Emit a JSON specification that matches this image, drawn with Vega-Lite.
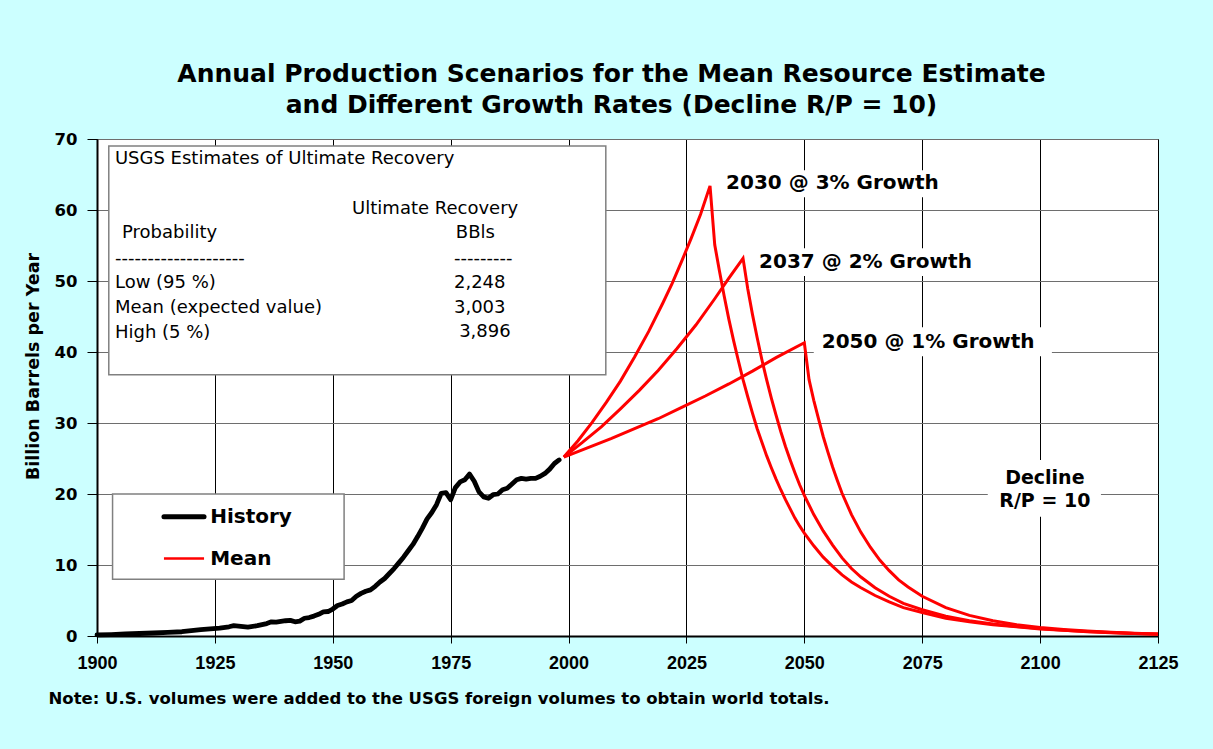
{
  "$schema": "https://vega.github.io/schema/vega-lite/v6.json",
  "width": 1061,
  "height": 497,
  "autosize": {"type": "none"},
  "padding": {"left": 97, "top": 139, "right": 55, "bottom": 113},
  "background": "#CCFFFF",
  "title": {
    "text": ["Annual Production Scenarios for the Mean Resource Estimate", "and Different Growth Rates (Decline R/P = 10)"],
    "font": "DejaVu Sans", "fontSize": 25, "fontWeight": "bold", "color": "black",
    "anchor": "middle", "frame": "group", "dx": -16, "offset": 13, "lineHeight": 31
  },
  "datasets": {
    "history": [
      {"series":"History","year":1900,"value":0.15},{"series":"History","year":1903,"value":0.2},{"series":"History","year":1906,"value":0.28},
      {"series":"History","year":1909,"value":0.35},{"series":"History","year":1912,"value":0.42},{"series":"History","year":1915,"value":0.5},
      {"series":"History","year":1918,"value":0.6},{"series":"History","year":1920,"value":0.75},{"series":"History","year":1922,"value":0.9},
      {"series":"History","year":1924,"value":1.0},{"series":"History","year":1926,"value":1.1},{"series":"History","year":1928,"value":1.3},
      {"series":"History","year":1929,"value":1.45},{"series":"History","year":1930,"value":1.4},{"series":"History","year":1932,"value":1.25},
      {"series":"History","year":1934,"value":1.45},{"series":"History","year":1936,"value":1.75},{"series":"History","year":1937,"value":2.0},
      {"series":"History","year":1938,"value":1.95},{"series":"History","year":1940,"value":2.15},{"series":"History","year":1941,"value":2.2},
      {"series":"History","year":1942,"value":2.0},{"series":"History","year":1943,"value":2.1},{"series":"History","year":1944,"value":2.5},
      {"series":"History","year":1945,"value":2.6},{"series":"History","year":1946,"value":2.8},{"series":"History","year":1947,"value":3.05},
      {"series":"History","year":1948,"value":3.4},{"series":"History","year":1949,"value":3.45},{"series":"History","year":1950,"value":3.8},
      {"series":"History","year":1951,"value":4.3},{"series":"History","year":1952,"value":4.5},{"series":"History","year":1953,"value":4.8},
      {"series":"History","year":1954,"value":5.0},{"series":"History","year":1955,"value":5.6},{"series":"History","year":1956,"value":6.0},
      {"series":"History","year":1957,"value":6.3},{"series":"History","year":1958,"value":6.5},{"series":"History","year":1959,"value":7.0},
      {"series":"History","year":1960,"value":7.6},{"series":"History","year":1961,"value":8.1},{"series":"History","year":1962,"value":8.8},
      {"series":"History","year":1963,"value":9.5},{"series":"History","year":1964,"value":10.3},{"series":"History","year":1965,"value":11.1},
      {"series":"History","year":1966,"value":12.0},{"series":"History","year":1967,"value":12.9},{"series":"History","year":1968,"value":14.0},
      {"series":"History","year":1969,"value":15.2},{"series":"History","year":1970,"value":16.5},{"series":"History","year":1971,"value":17.4},
      {"series":"History","year":1972,"value":18.5},{"series":"History","year":1973,"value":20.1},{"series":"History","year":1974,"value":20.2},
      {"series":"History","year":1975,"value":19.2},{"series":"History","year":1976,"value":20.9},{"series":"History","year":1977,"value":21.7},
      {"series":"History","year":1978,"value":22.0},{"series":"History","year":1979,"value":22.8},{"series":"History","year":1980,"value":21.8},
      {"series":"History","year":1981,"value":20.3},{"series":"History","year":1982,"value":19.6},{"series":"History","year":1983,"value":19.4},
      {"series":"History","year":1984,"value":19.9},{"series":"History","year":1985,"value":20.0},{"series":"History","year":1986,"value":20.6},
      {"series":"History","year":1987,"value":20.8},{"series":"History","year":1988,"value":21.4},{"series":"History","year":1989,"value":22.0},
      {"series":"History","year":1990,"value":22.2},{"series":"History","year":1991,"value":22.1},{"series":"History","year":1992,"value":22.2},
      {"series":"History","year":1993,"value":22.2},{"series":"History","year":1994,"value":22.5},{"series":"History","year":1995,"value":22.9},
      {"series":"History","year":1996,"value":23.5},{"series":"History","year":1997,"value":24.3},{"series":"History","year":1998,"value":24.8}
    ],
    "mean": [
      {"series":"Mean","scenario":"2030 @ 3%","year":1999,"value":25.2},{"series":"Mean","scenario":"2030 @ 3%","year":2002,"value":27.5},
      {"series":"Mean","scenario":"2030 @ 3%","year":2005,"value":30.1},{"series":"Mean","scenario":"2030 @ 3%","year":2008,"value":32.9},
      {"series":"Mean","scenario":"2030 @ 3%","year":2011,"value":35.9},{"series":"Mean","scenario":"2030 @ 3%","year":2014,"value":39.3},
      {"series":"Mean","scenario":"2030 @ 3%","year":2017,"value":42.9},{"series":"Mean","scenario":"2030 @ 3%","year":2020,"value":46.9},
      {"series":"Mean","scenario":"2030 @ 3%","year":2022,"value":49.7},{"series":"Mean","scenario":"2030 @ 3%","year":2024,"value":52.8},
      {"series":"Mean","scenario":"2030 @ 3%","year":2026,"value":56.0},{"series":"Mean","scenario":"2030 @ 3%","year":2028,"value":59.4},
      {"series":"Mean","scenario":"2030 @ 3%","year":2030,"value":63.4},{"series":"Mean","scenario":"2030 @ 3%","year":2031,"value":55.1},
      {"series":"Mean","scenario":"2030 @ 3%","year":2032,"value":51.4},{"series":"Mean","scenario":"2030 @ 3%","year":2033,"value":47.9},
      {"series":"Mean","scenario":"2030 @ 3%","year":2034,"value":44.6},{"series":"Mean","scenario":"2030 @ 3%","year":2035,"value":41.6},
      {"series":"Mean","scenario":"2030 @ 3%","year":2036,"value":38.8},{"series":"Mean","scenario":"2030 @ 3%","year":2037,"value":36.1},
      {"series":"Mean","scenario":"2030 @ 3%","year":2038,"value":33.7},{"series":"Mean","scenario":"2030 @ 3%","year":2039,"value":31.4},
      {"series":"Mean","scenario":"2030 @ 3%","year":2040,"value":29.2},{"series":"Mean","scenario":"2030 @ 3%","year":2041,"value":27.3},
      {"series":"Mean","scenario":"2030 @ 3%","year":2042,"value":25.4},{"series":"Mean","scenario":"2030 @ 3%","year":2043,"value":23.7},
      {"series":"Mean","scenario":"2030 @ 3%","year":2044,"value":22.1},{"series":"Mean","scenario":"2030 @ 3%","year":2045,"value":20.6},
      {"series":"Mean","scenario":"2030 @ 3%","year":2046,"value":19.2},{"series":"Mean","scenario":"2030 @ 3%","year":2047,"value":17.9},
      {"series":"Mean","scenario":"2030 @ 3%","year":2048,"value":16.6},{"series":"Mean","scenario":"2030 @ 3%","year":2049,"value":15.5},
      {"series":"Mean","scenario":"2030 @ 3%","year":2050,"value":14.5},{"series":"Mean","scenario":"2030 @ 3%","year":2052,"value":12.7},
      {"series":"Mean","scenario":"2030 @ 3%","year":2054,"value":11.1},{"series":"Mean","scenario":"2030 @ 3%","year":2056,"value":9.8},
      {"series":"Mean","scenario":"2030 @ 3%","year":2058,"value":8.6},{"series":"Mean","scenario":"2030 @ 3%","year":2060,"value":7.6},
      {"series":"Mean","scenario":"2030 @ 3%","year":2062,"value":6.8},{"series":"Mean","scenario":"2030 @ 3%","year":2065,"value":5.7},
      {"series":"Mean","scenario":"2030 @ 3%","year":2068,"value":4.8},{"series":"Mean","scenario":"2030 @ 3%","year":2071,"value":4.0},
      {"series":"Mean","scenario":"2030 @ 3%","year":2075,"value":3.3},{"series":"Mean","scenario":"2030 @ 3%","year":2080,"value":2.5},
      {"series":"Mean","scenario":"2030 @ 3%","year":2085,"value":2.0},{"series":"Mean","scenario":"2030 @ 3%","year":2090,"value":1.6},
      {"series":"Mean","scenario":"2030 @ 3%","year":2095,"value":1.3},{"series":"Mean","scenario":"2030 @ 3%","year":2100,"value":1.0},
      {"series":"Mean","scenario":"2030 @ 3%","year":2105,"value":0.8},{"series":"Mean","scenario":"2030 @ 3%","year":2110,"value":0.6},
      {"series":"Mean","scenario":"2030 @ 3%","year":2115,"value":0.45},{"series":"Mean","scenario":"2030 @ 3%","year":2120,"value":0.34},
      {"series":"Mean","scenario":"2030 @ 3%","year":2125,"value":0.25},

      {"series":"Mean","scenario":"2037 @ 2%","year":1999,"value":25.2},{"series":"Mean","scenario":"2037 @ 2%","year":2003,"value":27.3},
      {"series":"Mean","scenario":"2037 @ 2%","year":2007,"value":29.5},{"series":"Mean","scenario":"2037 @ 2%","year":2011,"value":32.0},
      {"series":"Mean","scenario":"2037 @ 2%","year":2015,"value":34.6},{"series":"Mean","scenario":"2037 @ 2%","year":2019,"value":37.4},
      {"series":"Mean","scenario":"2037 @ 2%","year":2023,"value":40.5},{"series":"Mean","scenario":"2037 @ 2%","year":2027,"value":43.8},
      {"series":"Mean","scenario":"2037 @ 2%","year":2031,"value":47.5},{"series":"Mean","scenario":"2037 @ 2%","year":2034,"value":50.4},
      {"series":"Mean","scenario":"2037 @ 2%","year":2037,"value":53.2},{"series":"Mean","scenario":"2037 @ 2%","year":2038,"value":48.9},
      {"series":"Mean","scenario":"2037 @ 2%","year":2039,"value":45.3},{"series":"Mean","scenario":"2037 @ 2%","year":2040,"value":42.0},
      {"series":"Mean","scenario":"2037 @ 2%","year":2041,"value":38.9},{"series":"Mean","scenario":"2037 @ 2%","year":2042,"value":36.1},
      {"series":"Mean","scenario":"2037 @ 2%","year":2043,"value":33.5},{"series":"Mean","scenario":"2037 @ 2%","year":2044,"value":31.1},
      {"series":"Mean","scenario":"2037 @ 2%","year":2045,"value":28.8},{"series":"Mean","scenario":"2037 @ 2%","year":2046,"value":26.7},
      {"series":"Mean","scenario":"2037 @ 2%","year":2047,"value":24.8},{"series":"Mean","scenario":"2037 @ 2%","year":2048,"value":23.0},
      {"series":"Mean","scenario":"2037 @ 2%","year":2049,"value":21.3},{"series":"Mean","scenario":"2037 @ 2%","year":2050,"value":19.8},
      {"series":"Mean","scenario":"2037 @ 2%","year":2052,"value":17.1},{"series":"Mean","scenario":"2037 @ 2%","year":2054,"value":14.8},
      {"series":"Mean","scenario":"2037 @ 2%","year":2056,"value":12.8},{"series":"Mean","scenario":"2037 @ 2%","year":2058,"value":11.0},
      {"series":"Mean","scenario":"2037 @ 2%","year":2060,"value":9.5},{"series":"Mean","scenario":"2037 @ 2%","year":2062,"value":8.3},
      {"series":"Mean","scenario":"2037 @ 2%","year":2065,"value":6.8},{"series":"Mean","scenario":"2037 @ 2%","year":2068,"value":5.6},
      {"series":"Mean","scenario":"2037 @ 2%","year":2071,"value":4.6},{"series":"Mean","scenario":"2037 @ 2%","year":2075,"value":3.7},
      {"series":"Mean","scenario":"2037 @ 2%","year":2080,"value":2.8},{"series":"Mean","scenario":"2037 @ 2%","year":2085,"value":2.15},
      {"series":"Mean","scenario":"2037 @ 2%","year":2090,"value":1.7},{"series":"Mean","scenario":"2037 @ 2%","year":2095,"value":1.35},
      {"series":"Mean","scenario":"2037 @ 2%","year":2100,"value":1.05},{"series":"Mean","scenario":"2037 @ 2%","year":2105,"value":0.82},
      {"series":"Mean","scenario":"2037 @ 2%","year":2110,"value":0.63},{"series":"Mean","scenario":"2037 @ 2%","year":2115,"value":0.48},
      {"series":"Mean","scenario":"2037 @ 2%","year":2120,"value":0.36},{"series":"Mean","scenario":"2037 @ 2%","year":2125,"value":0.27},

      {"series":"Mean","scenario":"2050 @ 1%","year":1999,"value":25.2},{"series":"Mean","scenario":"2050 @ 1%","year":2004,"value":26.5},
      {"series":"Mean","scenario":"2050 @ 1%","year":2009,"value":27.8},{"series":"Mean","scenario":"2050 @ 1%","year":2014,"value":29.2},
      {"series":"Mean","scenario":"2050 @ 1%","year":2019,"value":30.6},{"series":"Mean","scenario":"2050 @ 1%","year":2024,"value":32.2},
      {"series":"Mean","scenario":"2050 @ 1%","year":2029,"value":33.8},{"series":"Mean","scenario":"2050 @ 1%","year":2034,"value":35.5},
      {"series":"Mean","scenario":"2050 @ 1%","year":2039,"value":37.3},{"series":"Mean","scenario":"2050 @ 1%","year":2044,"value":39.2},
      {"series":"Mean","scenario":"2050 @ 1%","year":2050,"value":41.3},{"series":"Mean","scenario":"2050 @ 1%","year":2051,"value":36.1},
      {"series":"Mean","scenario":"2050 @ 1%","year":2052,"value":33.2},{"series":"Mean","scenario":"2050 @ 1%","year":2053,"value":30.6},
      {"series":"Mean","scenario":"2050 @ 1%","year":2054,"value":28.1},{"series":"Mean","scenario":"2050 @ 1%","year":2055,"value":25.9},
      {"series":"Mean","scenario":"2050 @ 1%","year":2056,"value":23.8},{"series":"Mean","scenario":"2050 @ 1%","year":2057,"value":21.9},
      {"series":"Mean","scenario":"2050 @ 1%","year":2058,"value":20.1},{"series":"Mean","scenario":"2050 @ 1%","year":2060,"value":17.1},
      {"series":"Mean","scenario":"2050 @ 1%","year":2062,"value":14.6},{"series":"Mean","scenario":"2050 @ 1%","year":2064,"value":12.5},
      {"series":"Mean","scenario":"2050 @ 1%","year":2066,"value":10.7},{"series":"Mean","scenario":"2050 @ 1%","year":2068,"value":9.2},
      {"series":"Mean","scenario":"2050 @ 1%","year":2070,"value":7.9},{"series":"Mean","scenario":"2050 @ 1%","year":2072,"value":6.9},
      {"series":"Mean","scenario":"2050 @ 1%","year":2075,"value":5.6},{"series":"Mean","scenario":"2050 @ 1%","year":2080,"value":4.0},
      {"series":"Mean","scenario":"2050 @ 1%","year":2085,"value":2.9},{"series":"Mean","scenario":"2050 @ 1%","year":2090,"value":2.15},
      {"series":"Mean","scenario":"2050 @ 1%","year":2095,"value":1.6},{"series":"Mean","scenario":"2050 @ 1%","year":2100,"value":1.2},
      {"series":"Mean","scenario":"2050 @ 1%","year":2105,"value":0.92},{"series":"Mean","scenario":"2050 @ 1%","year":2110,"value":0.7},
      {"series":"Mean","scenario":"2050 @ 1%","year":2115,"value":0.52},{"series":"Mean","scenario":"2050 @ 1%","year":2120,"value":0.38},
      {"series":"Mean","scenario":"2050 @ 1%","year":2125,"value":0.28}
    ]
  },
  "layer": [
    {
      "data": {"values": [{}]},
      "mark": {"type": "rect", "fill": "white", "stroke": "#808080", "strokeWidth": 1.5},
      "encoding": {
        "x": {
          "datum": 1902.5, "type": "quantitative",
          "scale": {"domain": [1900, 2125], "nice": false, "zero": false},
          "axis": {
            "values": [1900, 1925, 1950, 1975, 2000, 2025, 2050, 2075, 2100, 2125],
            "format": "d",
            "labelFont": "Liberation Sans", "labelFontSize": 18, "labelFontWeight": "bold", "labelColor": "black",
            "labelPadding": 11, "labelFlush": false, "labelOverlap": false,
            "tickSize": 7, "tickColor": "black", "tickWidth": 1,
            "domainColor": "black", "domainWidth": 2,
            "grid": true, "gridColor": "black", "gridWidth": 1, "gridOpacity": 1,
            "title": "Note:  U.S. volumes were added to the USGS foreign volumes to obtain world totals.",
            "titleFont": "DejaVu Sans", "titleFontSize": 16.5, "titleFontWeight": "bold", "titleColor": "black",
            "titleAnchor": "start", "titleAlign": "left", "titleBaseline": "middle",
            "titleX": -49, "titleY": 62
          }
        },
        "x2": {"datum": 2007.9},
        "y": {
          "datum": 69.0, "type": "quantitative",
          "scale": {"domain": [0, 70], "nice": false},
          "axis": {
            "values": [0, 10, 20, 30, 40, 50, 60, 70],
            "labelFont": "DejaVu Sans", "labelFontSize": 16.5, "labelFontWeight": "bold", "labelColor": "black",
            "labelPadding": 10, "labelFlush": false, "labelOverlap": false,
            "tickSize": 10, "tickColor": "black", "tickWidth": 1,
            "domainColor": "black", "domainWidth": 2,
            "grid": true, "gridColor": "#6e6e6e", "gridWidth": 1, "gridOpacity": 1,
            "title": "Billion Barrels per Year",
            "titleFont": "DejaVu Sans", "titleFontSize": 17.5, "titleFontWeight": "bold", "titleColor": "black",
            "titleAngle": 270, "titleAlign": "center", "titleBaseline": "middle",
            "titleX": -64, "titleY": 227
          }
        },
        "y2": {"datum": 36.8}
      }
    },
    {
      "data": {"values": [{}]},
      "mark": {"type": "rect", "fill": "white", "stroke": "#808080", "strokeWidth": 1.5},
      "encoding": {
        "x": {"datum": 1903.3, "type": "quantitative", "scale": {"domain": [1900, 2125], "nice": false, "zero": false}},
        "x2": {"datum": 1952.4},
        "y": {"datum": 20.0, "type": "quantitative", "scale": {"domain": [0, 70], "nice": false}},
        "y2": {"datum": 8.0}
      }
    },
    {
      "data": {"values": [{}]},
      "mark": {"type": "rect", "fill": "white"},
      "encoding": {
        "x": {"datum": 2032.1, "type": "quantitative", "scale": {"domain": [1900, 2125], "nice": false, "zero": false}},
        "x2": {"datum": 2080.0},
        "y": {"datum": 65.6, "type": "quantitative", "scale": {"domain": [0, 70], "nice": false}},
        "y2": {"datum": 61.8}
      }
    },
    {
      "data": {"values": [{}]},
      "mark": {"type": "rect", "fill": "white"},
      "encoding": {
        "x": {"datum": 2039.3, "type": "quantitative", "scale": {"domain": [1900, 2125], "nice": false, "zero": false}},
        "x2": {"datum": 2086.8},
        "y": {"datum": 54.6, "type": "quantitative", "scale": {"domain": [0, 70], "nice": false}},
        "y2": {"datum": 50.7}
      }
    },
    {
      "data": {"values": [{}]},
      "mark": {"type": "rect", "fill": "white"},
      "encoding": {
        "x": {"datum": 2052.0, "type": "quantitative", "scale": {"domain": [1900, 2125], "nice": false, "zero": false}},
        "x2": {"datum": 2102.5},
        "y": {"datum": 43.5, "type": "quantitative", "scale": {"domain": [0, 70], "nice": false}},
        "y2": {"datum": 39.4}
      }
    },
    {
      "data": {"values": [{}]},
      "mark": {"type": "rect", "fill": "white"},
      "encoding": {
        "x": {"datum": 2088.9, "type": "quantitative", "scale": {"domain": [1900, 2125], "nice": false, "zero": false}},
        "x2": {"datum": 2112.9},
        "y": {"datum": 24.8, "type": "quantitative", "scale": {"domain": [0, 70], "nice": false}},
        "y2": {"datum": 16.8}
      }
    },
    {
      "data": {"name": "history"},
      "mark": {"type": "line", "strokeWidth": 4.8, "strokeJoin": "round", "strokeCap": "round"},
      "encoding": {
        "x": {"field": "year", "type": "quantitative", "scale": {"domain": [1900, 2125], "nice": false, "zero": false}},
        "y": {"field": "value", "type": "quantitative", "scale": {"domain": [0, 70], "nice": false}},
        "color": {"field": "series", "type": "nominal", "scale": {"domain": ["History", "Mean"], "range": ["#000000", "#FF0000"]}, "legend": null}
      }
    },
    {
      "data": {"name": "mean"},
      "mark": {"type": "line", "strokeWidth": 3, "strokeJoin": "miter"},
      "encoding": {
        "x": {"field": "year", "type": "quantitative", "scale": {"domain": [1900, 2125], "nice": false, "zero": false}},
        "y": {"field": "value", "type": "quantitative", "scale": {"domain": [0, 70], "nice": false}},
        "color": {"field": "series", "type": "nominal", "scale": {"domain": ["History", "Mean"], "range": ["#000000", "#FF0000"]}, "legend": null},
        "detail": {"field": "scenario", "type": "nominal"}
      }
    },
    {
      "data": {"values": [{}]},
      "mark": {"type": "rule", "stroke": "black", "strokeWidth": 5, "strokeCap": "round"},
      "encoding": {
        "x": {"datum": 1914.2, "type": "quantitative", "scale": {"domain": [1900, 2125], "nice": false, "zero": false}},
        "x2": {"datum": 1922.7},
        "y": {"datum": 16.8, "type": "quantitative", "scale": {"domain": [0, 70], "nice": false}}
      }
    },
    {
      "data": {"values": [{}]},
      "mark": {"type": "rule", "stroke": "#FF0000", "strokeWidth": 2.5},
      "encoding": {
        "x": {"datum": 1914.2, "type": "quantitative", "scale": {"domain": [1900, 2125], "nice": false, "zero": false}},
        "x2": {"datum": 1922.7},
        "y": {"datum": 10.9, "type": "quantitative", "scale": {"domain": [0, 70], "nice": false}}
      }
    },
    {
      "data": {"values": [{}]},
      "mark": {"type": "text", "text": "History", "align": "left", "baseline": "middle", "font": "DejaVu Sans", "fontSize": 20, "fontWeight": "bold", "fill": "black"},
      "encoding": {
        "x": {"datum": 1924.0, "type": "quantitative", "scale": {"domain": [1900, 2125], "nice": false, "zero": false}},
        "y": {"datum": 16.8, "type": "quantitative", "scale": {"domain": [0, 70], "nice": false}}
      }
    },
    {
      "data": {"values": [{}]},
      "mark": {"type": "text", "text": "Mean", "align": "left", "baseline": "middle", "font": "DejaVu Sans", "fontSize": 20, "fontWeight": "bold", "fill": "black"},
      "encoding": {
        "x": {"datum": 1924.0, "type": "quantitative", "scale": {"domain": [1900, 2125], "nice": false, "zero": false}},
        "y": {"datum": 10.9, "type": "quantitative", "scale": {"domain": [0, 70], "nice": false}}
      }
    },
    {
      "data": {"values": [{}]},
      "mark": {"type": "text", "text": "2030 @ 3% Growth", "align": "left", "baseline": "middle", "font": "DejaVu Sans", "fontSize": 20, "fontWeight": "bold", "fill": "black"},
      "encoding": {
        "x": {"datum": 2033.4, "type": "quantitative", "scale": {"domain": [1900, 2125], "nice": false, "zero": false}},
        "y": {"datum": 63.8, "type": "quantitative", "scale": {"domain": [0, 70], "nice": false}}
      }
    },
    {
      "data": {"values": [{}]},
      "mark": {"type": "text", "text": "2037 @ 2% Growth", "align": "left", "baseline": "middle", "font": "DejaVu Sans", "fontSize": 20, "fontWeight": "bold", "fill": "black"},
      "encoding": {
        "x": {"datum": 2040.4, "type": "quantitative", "scale": {"domain": [1900, 2125], "nice": false, "zero": false}},
        "y": {"datum": 52.7, "type": "quantitative", "scale": {"domain": [0, 70], "nice": false}}
      }
    },
    {
      "data": {"values": [{}]},
      "mark": {"type": "text", "text": "2050 @ 1% Growth", "align": "left", "baseline": "middle", "font": "DejaVu Sans", "fontSize": 20, "fontWeight": "bold", "fill": "black"},
      "encoding": {
        "x": {"datum": 2053.7, "type": "quantitative", "scale": {"domain": [1900, 2125], "nice": false, "zero": false}},
        "y": {"datum": 41.4, "type": "quantitative", "scale": {"domain": [0, 70], "nice": false}}
      }
    },
    {
      "data": {"values": [{}]},
      "mark": {"type": "text", "text": ["Decline", "R/P = 10"], "align": "center", "baseline": "middle", "lineHeight": 23, "font": "DejaVu Sans", "fontSize": 19, "fontWeight": "bold", "fill": "black"},
      "encoding": {
        "x": {"datum": 2101.0, "type": "quantitative", "scale": {"domain": [1900, 2125], "nice": false, "zero": false}},
        "y": {"datum": 22.2, "type": "quantitative", "scale": {"domain": [0, 70], "nice": false}}
      }
    },
    {
      "data": {"values": [{}]},
      "mark": {"type": "text", "text": "USGS Estimates of Ultimate Recovery", "align": "left", "baseline": "middle", "font": "DejaVu Sans", "fontSize": 18, "fill": "black"},
      "encoding": {
        "x": {"datum": 1903.8, "type": "quantitative", "scale": {"domain": [1900, 2125], "nice": false, "zero": false}},
        "y": {"datum": 67.2, "type": "quantitative", "scale": {"domain": [0, 70], "nice": false}}
      }
    },
    {
      "data": {"values": [{}]},
      "mark": {"type": "text", "text": "Ultimate Recovery", "align": "left", "baseline": "middle", "font": "DejaVu Sans", "fontSize": 18, "fill": "black"},
      "encoding": {
        "x": {"datum": 1954.1, "type": "quantitative", "scale": {"domain": [1900, 2125], "nice": false, "zero": false}},
        "y": {"datum": 60.1, "type": "quantitative", "scale": {"domain": [0, 70], "nice": false}}
      }
    },
    {
      "data": {"values": [{}]},
      "mark": {"type": "text", "text": "Probability", "align": "left", "baseline": "middle", "font": "DejaVu Sans", "fontSize": 18, "fill": "black"},
      "encoding": {
        "x": {"datum": 1905.3, "type": "quantitative", "scale": {"domain": [1900, 2125], "nice": false, "zero": false}},
        "y": {"datum": 56.8, "type": "quantitative", "scale": {"domain": [0, 70], "nice": false}}
      }
    },
    {
      "data": {"values": [{}]},
      "mark": {"type": "text", "text": "BBls", "align": "left", "baseline": "middle", "font": "DejaVu Sans", "fontSize": 18, "fill": "black"},
      "encoding": {
        "x": {"datum": 1976.1, "type": "quantitative", "scale": {"domain": [1900, 2125], "nice": false, "zero": false}},
        "y": {"datum": 56.8, "type": "quantitative", "scale": {"domain": [0, 70], "nice": false}}
      }
    },
    {
      "data": {"values": [{}]},
      "mark": {"type": "text", "text": ["--------------------", "Low (95 %)", "Mean (expected value)", "High (5 %)"], "align": "left", "baseline": "top", "lineHeight": 24.7, "font": "DejaVu Sans", "fontSize": 18, "fill": "black"},
      "encoding": {
        "x": {"datum": 1903.8, "type": "quantitative", "scale": {"domain": [1900, 2125], "nice": false, "zero": false}},
        "y": {"datum": 54.4, "type": "quantitative", "scale": {"domain": [0, 70], "nice": false}}
      }
    },
    {
      "data": {"values": [{}]},
      "mark": {"type": "text", "text": ["---------", "2,248", "3,003"], "align": "left", "baseline": "top", "lineHeight": 24.7, "font": "DejaVu Sans", "fontSize": 18, "fill": "black"},
      "encoding": {
        "x": {"datum": 1975.7, "type": "quantitative", "scale": {"domain": [1900, 2125], "nice": false, "zero": false}},
        "y": {"datum": 54.4, "type": "quantitative", "scale": {"domain": [0, 70], "nice": false}}
      }
    },
    {
      "data": {"values": [{}]},
      "mark": {"type": "text", "text": "3,896", "align": "left", "baseline": "middle", "font": "DejaVu Sans", "fontSize": 18, "fill": "black"},
      "encoding": {
        "x": {"datum": 1976.8, "type": "quantitative", "scale": {"domain": [1900, 2125], "nice": false, "zero": false}},
        "y": {"datum": 42.8, "type": "quantitative", "scale": {"domain": [0, 70], "nice": false}}
      }
    }
  ],
  "config": {
    "view": {"stroke": "black", "strokeWidth": 1, "fill": "white"},
    "axis": {"zindex": 0}
  }
}
